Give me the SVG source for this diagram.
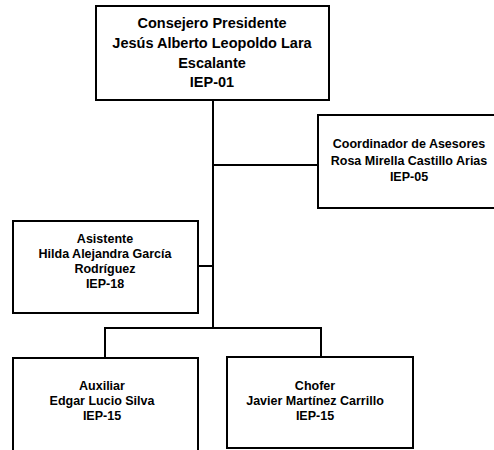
<svg xmlns="http://www.w3.org/2000/svg" width="494" height="450" viewBox="0 0 494 450">
<style>
.box{fill:#fff;stroke:#000;stroke-width:2}
.ln{fill:none;stroke:#000;stroke-width:2}
text{font-family:"Liberation Sans",Arial,sans-serif;font-weight:bold;fill:#000;text-anchor:middle}
.big{font-size:14.5px}
.sm{font-size:12.5px}
</style>
<rect width="494" height="450" fill="#fff"/>
<g id="connectors">
<path class="ln" d="M213 100 V328"/>
<path class="ln" d="M213 165 H318"/>
<path class="ln" d="M198 266 H213"/>
<path class="ln" d="M105 358 V328 H321 V356"/>
</g>
<g id="presidente">
<rect class="box" x="96" y="6" width="233" height="94"/>
<text class="big" x="212" y="28">Consejero Presidente</text>
<text class="big" x="212" y="48">Jesús Alberto Leopoldo Lara</text>
<text class="big" x="212" y="68">Escalante</text>
<text class="big" x="212" y="87">IEP-01</text>
</g>
<g id="coordinador">
<rect class="box" x="318" y="115" width="190" height="93"/>
<text class="sm" x="409" y="148">Coordinador  de Asesores</text>
<text class="sm" x="409" y="165">Rosa Mirella Castillo Arias</text>
<text class="sm" x="409" y="181">IEP-05</text>
</g>
<g id="asistente">
<rect class="box" x="13" y="221" width="185" height="92"/>
<text class="sm" x="105" y="243">Asistente</text>
<text class="sm" x="105" y="258">Hilda Alejandra García</text>
<text class="sm" x="105" y="273">Rodríguez</text>
<text class="sm" x="105" y="288">IEP-18</text>
</g>
<g id="auxiliar">
<rect class="box" x="13" y="358" width="185" height="100"/>
<text class="sm" x="102" y="390">Auxiliar</text>
<text class="sm" x="102" y="405">Edgar Lucio Silva</text>
<text class="sm" x="102" y="420">IEP-15</text>
</g>
<g id="chofer">
<rect class="box" x="227" y="357" width="186" height="91"/>
<text class="sm" x="315" y="390">Chofer</text>
<text class="sm" x="315" y="405">Javier Martínez Carrillo</text>
<text class="sm" x="315" y="420">IEP-15</text>
</g>
</svg>
